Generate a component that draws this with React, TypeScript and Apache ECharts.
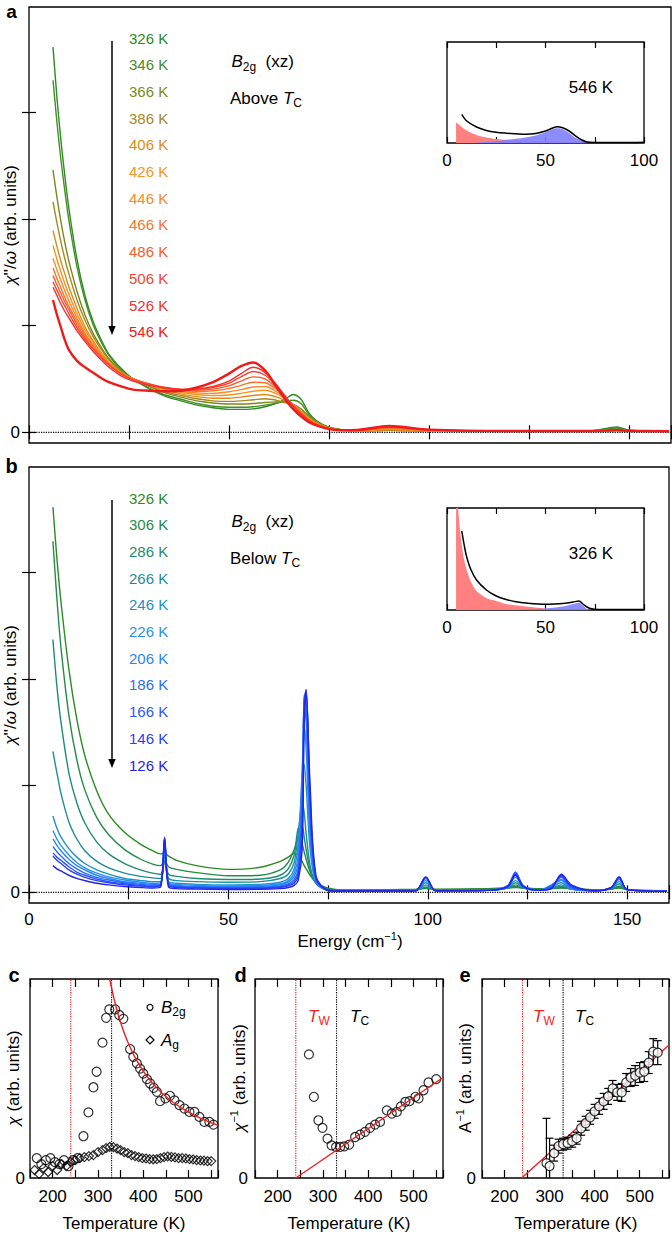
import React, { useEffect, useRef } from 'react';
import * as echarts from 'echarts';

// ---------- Panel a: spectra above Tc ----------
const EA = [6, 7, 8, 9, 10, 12, 14, 16, 18, 20, 23, 26, 30, 34, 38, 42, 46, 50, 53, 56, 59, 62, 64, 66, 68, 70, 72, 75, 78, 82, 90, 100, 120, 140, 147, 150, 160];
const A_326 = [3.61, 3.13, 2.73, 2.39, 2.09, 1.62, 1.28, 1.04, 0.87, 0.73, 0.60, 0.50, 0.41, 0.34, 0.295, 0.255, 0.23, 0.215, 0.215, 0.22, 0.24, 0.275, 0.31, 0.355, 0.31, 0.18, 0.105, 0.045, 0.025, 0.015, 0.02, 0.015, 0.012, 0.012, 0.05, 0.02, 0.01];
const A_346 = [3.30, 2.90, 2.55, 2.25, 1.98, 1.55, 1.24, 1.01, 0.85, 0.72, 0.59, 0.50, 0.415, 0.35, 0.31, 0.27, 0.245, 0.235, 0.235, 0.24, 0.255, 0.275, 0.29, 0.30, 0.27, 0.165, 0.10, 0.045, 0.025, 0.015, 0.02, 0.015, 0.012, 0.012, 0.04, 0.02, 0.01];
const A_366 = [2.46, 2.20, 1.97, 1.77, 1.60, 1.32, 1.10, 0.93, 0.80, 0.69, 0.58, 0.50, 0.43, 0.37, 0.33, 0.295, 0.275, 0.265, 0.265, 0.27, 0.28, 0.285, 0.28, 0.265, 0.22, 0.15, 0.095, 0.045, 0.025, 0.015, 0.02, 0.015, 0.012, 0.012, 0.03, 0.018, 0.01];
const A_386 = [2.16, 1.96, 1.78, 1.62, 1.48, 1.24, 1.05, 0.90, 0.78, 0.68, 0.57, 0.50, 0.435, 0.38, 0.345, 0.315, 0.295, 0.29, 0.295, 0.305, 0.315, 0.30, 0.28, 0.25, 0.20, 0.14, 0.09, 0.042, 0.024, 0.015, 0.022, 0.015, 0.012, 0.012, 0.025, 0.016, 0.01];
const A_406 = [1.89, 1.74, 1.60, 1.48, 1.36, 1.16, 0.99, 0.86, 0.75, 0.66, 0.56, 0.50, 0.44, 0.395, 0.36, 0.335, 0.32, 0.32, 0.33, 0.345, 0.355, 0.33, 0.295, 0.25, 0.195, 0.135, 0.085, 0.04, 0.022, 0.015, 0.025, 0.015, 0.012, 0.012, 0.022, 0.015, 0.01];
const A_426 = [1.75, 1.62, 1.50, 1.39, 1.29, 1.11, 0.96, 0.84, 0.74, 0.65, 0.56, 0.50, 0.445, 0.405, 0.375, 0.355, 0.345, 0.35, 0.365, 0.385, 0.395, 0.36, 0.315, 0.26, 0.195, 0.13, 0.08, 0.038, 0.021, 0.015, 0.03, 0.016, 0.012, 0.012, 0.02, 0.015, 0.01];
const A_446 = [1.63, 1.52, 1.42, 1.32, 1.23, 1.07, 0.93, 0.82, 0.73, 0.645, 0.555, 0.50, 0.45, 0.41, 0.385, 0.37, 0.365, 0.38, 0.40, 0.425, 0.43, 0.38, 0.325, 0.26, 0.19, 0.125, 0.078, 0.036, 0.02, 0.016, 0.035, 0.017, 0.012, 0.012, 0.02, 0.015, 0.01];
const A_466 = [1.54, 1.44, 1.35, 1.26, 1.18, 1.04, 0.91, 0.81, 0.72, 0.64, 0.55, 0.50, 0.45, 0.415, 0.395, 0.385, 0.39, 0.41, 0.44, 0.47, 0.465, 0.40, 0.33, 0.26, 0.185, 0.12, 0.075, 0.035, 0.02, 0.017, 0.04, 0.018, 0.012, 0.012, 0.02, 0.015, 0.01];
const A_486 = [1.47, 1.38, 1.30, 1.22, 1.15, 1.01, 0.89, 0.79, 0.71, 0.635, 0.55, 0.50, 0.455, 0.42, 0.40, 0.395, 0.405, 0.435, 0.48, 0.52, 0.50, 0.415, 0.335, 0.255, 0.18, 0.115, 0.072, 0.034, 0.02, 0.018, 0.045, 0.02, 0.012, 0.012, 0.02, 0.015, 0.01];
const A_506 = [1.41, 1.33, 1.25, 1.18, 1.11, 0.98, 0.87, 0.78, 0.70, 0.63, 0.545, 0.49, 0.45, 0.42, 0.405, 0.405, 0.42, 0.46, 0.52, 0.57, 0.535, 0.43, 0.34, 0.25, 0.175, 0.11, 0.07, 0.033, 0.02, 0.02, 0.05, 0.022, 0.012, 0.012, 0.02, 0.015, 0.01];
const A_526 = [1.36, 1.28, 1.20, 1.13, 1.07, 0.95, 0.85, 0.76, 0.68, 0.61, 0.53, 0.48, 0.44, 0.415, 0.40, 0.405, 0.43, 0.48, 0.55, 0.61, 0.56, 0.44, 0.34, 0.245, 0.17, 0.105, 0.068, 0.032, 0.02, 0.02, 0.055, 0.024, 0.012, 0.012, 0.02, 0.015, 0.01];
const A_546 = [1.24, 1.10, 0.98, 0.86, 0.77, 0.67, 0.61, 0.56, 0.51, 0.47, 0.43, 0.40, 0.39, 0.385, 0.39, 0.42, 0.47, 0.55, 0.62, 0.655, 0.58, 0.42, 0.31, 0.22, 0.15, 0.095, 0.062, 0.03, 0.02, 0.022, 0.06, 0.025, 0.012, 0.012, 0.02, 0.015, 0.01];
const LABELS_A = ['326 K', '346 K', '366 K', '386 K', '406 K', '426 K', '446 K', '466 K', '486 K', '506 K', '526 K', '546 K'];
const COLORS_A = ['#2b8c22', '#468c24', '#788a1e', '#a5881c', '#dc8c14', '#f3951e', '#f78926', '#f7742a', '#f75c2c', '#f6452f', '#f43030', '#f01a1a'];

// ---------- Panel b: spectra below Tc ----------
const EB = [6, 7, 8, 10, 12, 14, 17, 20, 24, 28, 31, 33, 34, 35, 37, 42, 50, 58, 63, 65, 66.5, 67.5, 68.5, 69, 69.5, 70.5, 72, 75, 80, 90, 97, 99.5, 102, 115, 120, 122, 124, 128, 131, 133.5, 136, 142, 146, 148, 150, 160];
const B_326 = [3.61, 3.13, 2.73, 2.09, 1.62, 1.28, 0.95, 0.73, 0.56, 0.45, 0.39, 0.36, 0.37, 0.34, 0.30, 0.25, 0.215, 0.235, 0.29, 0.33, 0.365, 0.35, 0.29, 0.25, 0.22, 0.16, 0.09, 0.04, 0.022, 0.025, 0.03, 0.035, 0.03, 0.035, 0.04, 0.045, 0.04, 0.035, 0.035, 0.04, 0.035, 0.025, 0.03, 0.04, 0.025, 0.015];
const B_306 = [3.29, 2.75, 2.30, 1.66, 1.24, 0.96, 0.70, 0.54, 0.40, 0.31, 0.265, 0.25, 0.30, 0.24, 0.215, 0.185, 0.155, 0.16, 0.21, 0.28, 0.40, 0.50, 0.45, 0.38, 0.31, 0.19, 0.09, 0.035, 0.02, 0.022, 0.025, 0.04, 0.025, 0.03, 0.04, 0.055, 0.04, 0.03, 0.035, 0.045, 0.03, 0.022, 0.03, 0.05, 0.025, 0.015];
const B_286 = [2.37, 1.93, 1.60, 1.12, 0.84, 0.65, 0.47, 0.36, 0.27, 0.21, 0.18, 0.17, 0.29, 0.17, 0.15, 0.13, 0.12, 0.125, 0.16, 0.22, 0.35, 0.60, 0.62, 0.52, 0.40, 0.21, 0.085, 0.03, 0.018, 0.018, 0.02, 0.05, 0.02, 0.025, 0.04, 0.07, 0.04, 0.025, 0.035, 0.055, 0.03, 0.02, 0.03, 0.06, 0.025, 0.012];
const B_266 = [1.32, 1.12, 0.93, 0.66, 0.50, 0.39, 0.29, 0.23, 0.18, 0.15, 0.135, 0.13, 0.30, 0.13, 0.11, 0.10, 0.095, 0.10, 0.13, 0.17, 0.28, 0.55, 0.83, 0.75, 0.55, 0.25, 0.08, 0.025, 0.015, 0.015, 0.018, 0.07, 0.018, 0.02, 0.04, 0.09, 0.04, 0.02, 0.04, 0.07, 0.03, 0.018, 0.035, 0.08, 0.025, 0.01];
const B_246 = [0.715, 0.60, 0.52, 0.41, 0.33, 0.27, 0.21, 0.17, 0.13, 0.11, 0.10, 0.10, 0.35, 0.10, 0.085, 0.075, 0.07, 0.075, 0.095, 0.13, 0.22, 0.45, 1.05, 1.20, 1.0, 0.40, 0.09, 0.02, 0.012, 0.012, 0.015, 0.09, 0.015, 0.018, 0.045, 0.11, 0.045, 0.02, 0.05, 0.09, 0.03, 0.015, 0.04, 0.10, 0.025, 0.01];
const B_226 = [0.58, 0.50, 0.44, 0.35, 0.28, 0.23, 0.18, 0.145, 0.115, 0.095, 0.085, 0.09, 0.42, 0.09, 0.075, 0.065, 0.06, 0.065, 0.08, 0.11, 0.18, 0.35, 1.15, 1.55, 1.35, 0.50, 0.09, 0.02, 0.012, 0.012, 0.015, 0.11, 0.015, 0.018, 0.05, 0.14, 0.05, 0.02, 0.06, 0.11, 0.03, 0.015, 0.045, 0.12, 0.025, 0.01];
const B_206 = [0.50, 0.44, 0.39, 0.31, 0.25, 0.21, 0.16, 0.13, 0.10, 0.085, 0.075, 0.08, 0.48, 0.08, 0.065, 0.057, 0.052, 0.055, 0.07, 0.095, 0.15, 0.28, 1.0, 1.75, 1.6, 0.60, 0.10, 0.02, 0.012, 0.012, 0.015, 0.13, 0.015, 0.018, 0.055, 0.17, 0.055, 0.02, 0.07, 0.12, 0.035, 0.015, 0.045, 0.13, 0.025, 0.01];
const B_186 = [0.43, 0.38, 0.34, 0.27, 0.22, 0.18, 0.14, 0.115, 0.09, 0.075, 0.068, 0.075, 0.50, 0.075, 0.058, 0.05, 0.046, 0.048, 0.06, 0.08, 0.12, 0.22, 0.85, 1.85, 1.75, 0.70, 0.11, 0.02, 0.012, 0.012, 0.015, 0.14, 0.015, 0.018, 0.06, 0.19, 0.06, 0.02, 0.06, 0.14, 0.04, 0.015, 0.045, 0.14, 0.025, 0.01];
const B_166 = [0.37, 0.33, 0.30, 0.24, 0.19, 0.16, 0.125, 0.10, 0.08, 0.065, 0.06, 0.07, 0.51, 0.07, 0.052, 0.045, 0.04, 0.042, 0.052, 0.07, 0.10, 0.18, 0.70, 1.80, 1.90, 0.80, 0.12, 0.02, 0.012, 0.012, 0.015, 0.145, 0.015, 0.018, 0.06, 0.18, 0.06, 0.02, 0.05, 0.15, 0.05, 0.015, 0.045, 0.145, 0.025, 0.01];
const B_146 = [0.34, 0.30, 0.27, 0.21, 0.17, 0.14, 0.11, 0.09, 0.07, 0.058, 0.053, 0.065, 0.52, 0.065, 0.046, 0.04, 0.035, 0.037, 0.045, 0.06, 0.085, 0.15, 0.55, 1.70, 1.90, 0.90, 0.13, 0.02, 0.012, 0.012, 0.015, 0.145, 0.015, 0.018, 0.055, 0.17, 0.055, 0.02, 0.04, 0.16, 0.06, 0.015, 0.045, 0.145, 0.025, 0.01];
const B_126 = [0.25, 0.22, 0.20, 0.16, 0.13, 0.11, 0.085, 0.07, 0.055, 0.045, 0.04, 0.05, 0.50, 0.05, 0.035, 0.03, 0.027, 0.028, 0.035, 0.045, 0.065, 0.11, 0.40, 1.55, 1.88, 1.0, 0.15, 0.02, 0.012, 0.012, 0.015, 0.14, 0.015, 0.018, 0.05, 0.16, 0.05, 0.02, 0.035, 0.17, 0.07, 0.015, 0.045, 0.14, 0.025, 0.01];
const LABELS_B = ['326 K', '306 K', '286 K', '266 K', '246 K', '226 K', '206 K', '186 K', '166 K', '146 K', '126 K'];
const COLORS_B = ['#2b8c22', '#238c48', '#1f8c70', '#1e8c9c', '#2090c8', '#2592ee', '#2a84fa', '#2a6cfa', '#2a56fa', '#2a40f5', '#2424e6'];

// ---------- Insets ----------
const IA_BLACK_E = [7.5, 10, 15, 20, 25, 30, 35, 40, 45, 50, 53, 56, 59, 62, 65, 68, 71, 75, 80, 90, 100];
const IA_BLACK_V = [28.7, 22, 16, 12.5, 10.7, 9.8, 9.2, 8.7, 9.5, 12, 14.5, 16.3, 15, 12, 7.5, 3.5, 1, 0.5, 0.5, 0.5, 0.8];
const IA_RED_E = [4.6, 7.5, 10, 15, 20, 25, 30, 40, 50, 60, 70, 80, 100];
const IA_RED_V = [20.7, 16, 12.5, 8, 5.5, 4, 3.2, 2.2, 1.5, 1, 0.5, 0.3, 0.2];
const IA_BLUE_E = [15, 20, 25, 30, 35, 40, 45, 50, 53, 56, 59, 62, 65, 68, 71, 73];
const IA_BLUE_V = [0.3, 1, 1.8, 3, 4.2, 5.5, 7.5, 11, 13.5, 14.7, 13.5, 10, 5.5, 2.5, 0.5, 0];
const IB_BLACK_E = [7.5, 9, 10, 12, 15, 20, 25, 30, 35, 40, 50, 60, 64, 67, 69, 72, 75, 80, 100];
const IB_BLACK_V = [79, 62, 53, 41, 30, 20, 14, 10.5, 8.3, 7, 5.7, 6.7, 8, 9, 6, 2, 0.7, 0.5, 0.5];
const IB_RED_E = [4.6, 5.5, 7, 8.5, 10, 12, 15, 20, 25, 30, 40, 50, 60, 70, 80, 100];
const IB_RED_V = [130, 105, 72, 52, 40, 29, 19, 12, 9, 6, 3.5, 1.5, 1, 0.5, 0.3, 0.2];
const IB_BLUE_E = [35, 40, 45, 50, 55, 60, 64, 67, 69, 71, 73];
const IB_BLUE_V = [0.2, 0.5, 0.9, 1.5, 2.5, 4, 6, 7.3, 4.5, 1, 0];

// ---------- Panel c ----------
const C_B2G_T = [165, 175, 185, 195, 205, 215, 225, 235, 245, 255, 268, 279, 290, 297, 310, 318, 325, 338, 347, 356, 371, 378, 386, 393, 400, 408, 415, 423, 430, 437, 449, 459, 469, 480, 491, 502, 513, 524, 535, 546, 555];
const C_B2G_V = [0.10, 0.07, 0.09, 0.10, 0.08, 0.07, 0.09, 0.06, 0.09, 0.10, 0.21, 0.33, 0.456, 0.534, 0.68, 0.805, 0.847, 0.847, 0.819, 0.80, 0.648, 0.609, 0.576, 0.55, 0.525, 0.497, 0.475, 0.453, 0.433, 0.386, 0.40, 0.413, 0.39, 0.366, 0.349, 0.332, 0.332, 0.307, 0.282, 0.282, 0.268];
const C_AG_T = [160, 170, 180, 190, 200, 210, 220, 230, 240, 250, 260, 270, 280, 290, 300, 310, 318, 326, 334, 342, 350, 358, 366, 374, 382, 390, 398, 406, 414, 422, 430, 438, 446, 454, 462, 470, 478, 486, 494, 502, 510, 518, 526, 534, 542, 550];
const C_AG_V = [0.04, 0.02, 0.05, 0.03, 0.06, 0.04, 0.07, 0.06, 0.08, 0.09, 0.10, 0.105, 0.11, 0.115, 0.13, 0.14, 0.15, 0.156, 0.155, 0.148, 0.14, 0.13, 0.125, 0.115, 0.11, 0.105, 0.10, 0.098, 0.095, 0.094, 0.095, 0.10, 0.105, 0.108, 0.106, 0.104, 0.10, 0.10, 0.098, 0.095, 0.093, 0.09, 0.088, 0.087, 0.085, 0.085];
const C_FIT_T = [326, 335, 345, 355, 365, 380, 400, 420, 440, 460, 480, 500, 520, 545, 565];
const C_FIT_V = [1.0, 0.905, 0.819, 0.748, 0.688, 0.614, 0.5375, 0.478, 0.43, 0.391, 0.358, 0.331, 0.307, 0.282, 0.265];

// ---------- Panel d ----------
const D_T = [269, 280, 290, 299, 310, 319, 329, 338, 347, 358, 371, 382, 393, 404, 415, 426, 441, 452, 463, 472, 482, 491, 504, 511, 522, 533, 550];
const D_V = [0.621, 0.408, 0.29, 0.252, 0.198, 0.164, 0.156, 0.156, 0.159, 0.168, 0.206, 0.218, 0.232, 0.252, 0.268, 0.282, 0.34, 0.324, 0.332, 0.36, 0.383, 0.386, 0.408, 0.40, 0.441, 0.48, 0.497];
const D_FIT_T = [240, 565];
const D_FIT_V = [0, 0.505];

// ---------- Panel e ----------
const E_T = [293, 300, 310, 320, 330, 340, 350, 360, 370, 380, 390, 400, 410, 420, 430, 440, 450, 460, 470, 480, 490, 500, 510, 520, 530, 540];
const E_V = [0.075, 0.06, 0.125, 0.16, 0.17, 0.175, 0.185, 0.20, 0.25, 0.275, 0.305, 0.335, 0.36, 0.385, 0.41, 0.45, 0.43, 0.43, 0.48, 0.505, 0.515, 0.53, 0.535, 0.58, 0.635, 0.63];
const E_ERR = [0.225, 0.14, 0.04, 0.035, 0.03, 0.03, 0.03, 0.03, 0.035, 0.035, 0.035, 0.035, 0.04, 0.04, 0.04, 0.04, 0.04, 0.045, 0.045, 0.045, 0.05, 0.05, 0.05, 0.055, 0.065, 0.06];
const E_FIT_T = [238, 565];
const E_FIT_V = [0, 0.668];

const T_W = 240;
const T_C = 330;

const FONT = '"Liberation Sans", Arial, Helvetica, sans-serif';
const RED = '#f01e1e';

function pairs(xs: number[], ys: number[]) {
  return xs.map((x, i) => [x, ys[i]]);
}

function rich(fill: string, size: number) {
  return {
    i: { fontStyle: 'italic', fontSize: size, fontFamily: FONT, fill },
    sub: { fontSize: 12, fontFamily: FONT, fill, verticalAlign: 'bottom', height: 12 },
    sup: { fontSize: 11, fontFamily: FONT, fill, verticalAlign: 'top', height: 12 },
  };
}

function txt(x: number, y: number, text: string, o: any = {}) {
  const size = o.size ?? 17;
  const fill = o.fill ?? '#000';
  const align = o.align ?? 'left';
  const style: any = {
    text,
    fill,
    fontSize: size,
    fontFamily: FONT,
    fontWeight: o.weight ?? 'normal',
    fontStyle: 'normal',
    align,
    textAlign: align,
    verticalAlign: 'middle',
    textVerticalAlign: 'middle',
  };
  if (!o.plain) {
    style.lineHeight = 22;
    style.rich = rich(fill, size);
  }
  return { type: 'text', x, y, rotation: o.rot ?? 0, silent: true, z: 100, style };
}

const tickLine = { color: '#000', width: 1.2 };

function xAx(gi: number, min: number, max: number, interval: number, pos: string, tickLen: number, labels?: (v: number) => string, margin = 8) {
  return {
    type: 'value',
    gridIndex: gi,
    min,
    max,
    interval,
    position: pos,
    splitLine: { show: false },
    axisLine: { show: false },
    axisTick: { show: true, inside: true, length: tickLen, lineStyle: tickLine },
    axisLabel: labels
      ? { show: true, formatter: labels, fontSize: 17, fontFamily: FONT, color: '#000', margin }
      : { show: false },
  };
}

function buildOption() {
  const grids = [
    { left: 29, top: 7, width: 642, height: 436 },
    { left: 447, top: 42, width: 197, height: 101 },
    { left: 29, top: 467, width: 642, height: 436 },
    { left: 447, top: 508, width: 197, height: 102 },
    { left: 30, top: 979, width: 188, height: 199 },
    { left: 255, top: 979, width: 188, height: 199 },
    { left: 482, top: 979, width: 188, height: 199 },
  ].map((g) => ({ ...g, show: true, borderColor: '#000', borderWidth: 1.3, backgroundColor: 'transparent', containLabel: false }));

  const lab50 = (v: number) => (v % 50 === 0 && v <= 150 ? String(v) : '');
  const labIn = (v: number) => (v % 50 === 0 ? String(v) : '');
  const labT = (v: number) => (v % 100 === 0 && v >= 200 && v <= 500 ? String(v) : '');

  const xAxis = [
    xAx(0, 0, 160.5, 25, 'bottom', 7),
    xAx(0, 0, 160.5, 25, 'top', 7),
    xAx(1, 0, 100, 25, 'bottom', 6, labIn, 9),
    xAx(1, 0, 100, 25, 'top', 6),
    xAx(2, 0, 160.5, 25, 'bottom', 7, lab50, 8),
    xAx(2, 0, 160.5, 25, 'top', 7),
    xAx(3, 0, 100, 25, 'bottom', 6, labIn, 9),
    xAx(3, 0, 100, 25, 'top', 6),
    xAx(4, 150, 565, 50, 'bottom', 8, labT, 10),
    xAx(4, 150, 565, 50, 'top', 8),
    xAx(5, 150, 565, 50, 'bottom', 8, labT, 10),
    xAx(5, 150, 565, 50, 'top', 8),
    xAx(6, 150, 565, 50, 'bottom', 8, labT, 10),
    xAx(6, 150, 565, 50, 'top', 8),
  ];

  const specY = (gi: number, pos: string, withLabel: boolean) => ({
    type: 'value',
    gridIndex: gi,
    min: -0.1,
    max: 3.986,
    position: pos,
    splitLine: { show: false },
    axisLine: { show: false },
    axisTick: { show: true, inside: true, length: 7, lineStyle: tickLine, customValues: [0, 1, 2, 3] },
    axisLabel: withLabel
      ? { show: true, customValues: [0], formatter: (v: number) => (Math.abs(v) < 1e-9 ? '0' : ''), fontSize: 17, fontFamily: FONT, color: '#000', margin: 9 }
      : { show: false },
  });
  const plainY = (gi: number, max: number) => ({
    type: 'value', gridIndex: gi, min: 0, max,
    splitLine: { show: false }, axisLine: { show: false }, axisTick: { show: false }, axisLabel: { show: false },
  });
  const tY = (gi: number, margin: number) => ({
    type: 'value', gridIndex: gi, min: 0, max: 1,
    splitLine: { show: false }, axisLine: { show: false }, axisTick: { show: false },
    axisLabel: { show: true, formatter: (v: number) => (v === 0 ? '0' : ''), fontSize: 17, fontFamily: FONT, color: '#000', margin },
  });

  const yAxis = [
    specY(0, 'left', true),
    specY(0, 'right', false),
    plainY(1, 101),
    specY(2, 'left', true),
    specY(2, 'right', false),
    plainY(3, 102),
    tY(4, 5),
    tY(5, 7),
    tY(6, 6),
  ];

  const series: any[] = [];
  const line = (data: any, color: string, xi: number, yi: number, width = 1.4, extra: any = {}) => ({
    type: 'line', data, xAxisIndex: xi, yAxisIndex: yi, showSymbol: false, symbol: 'none',
    smooth: 0.3, lineStyle: { color, width }, silent: true, clip: true, z: 3, ...extra,
  });

  // zero lines
  series.push(line([[0, 0], [160.5, 0]], '#000', 0, 0, 1.2, { smooth: false, lineStyle: { color: '#000', width: 1.2, type: 'dotted' }, z: 2 }));
  series.push(line([[0, 0], [160.5, 0]], '#000', 4, 3, 1.2, { smooth: false, lineStyle: { color: '#000', width: 1.2, type: 'dotted' }, z: 2 }));

  const SA = [A_326, A_346, A_366, A_386, A_406, A_426, A_446, A_466, A_486, A_506, A_526, A_546];
  SA.forEach((vals, i) => {
    series.push(line(pairs(EA, vals), COLORS_A[i], 0, 0, i === SA.length - 1 ? 2.4 : 1.4));
  });
  const SB = [B_326, B_306, B_286, B_266, B_246, B_226, B_206, B_186, B_166, B_146, B_126];
  SB.forEach((vals, i) => {
    series.push(line(pairs(EB, vals), COLORS_B[i], 4, 3, 1.4));
  });

  // insets
  const area = (data: any, color: string, xi: number, yi: number, opacity: number) => ({
    type: 'line', data, xAxisIndex: xi, yAxisIndex: yi, showSymbol: false, symbol: 'none', smooth: 0.3,
    lineStyle: { width: 0, color }, areaStyle: { color, opacity }, silent: true, clip: true, z: 3,
  });
  series.push(area(pairs(IA_RED_E, IA_RED_V), '#ff8080', 2, 2, 1));
  series.push(area(pairs(IA_BLUE_E, IA_BLUE_V), '#7f7fff', 2, 2, 0.9));
  series.push(line(pairs(IA_BLACK_E, IA_BLACK_V), '#000', 2, 2, 1.5, { z: 4 }));
  series.push(area(pairs(IB_RED_E, IB_RED_V), '#ff8080', 6, 5, 1));
  series.push(area(pairs(IB_BLUE_E, IB_BLUE_V), '#7f7fff', 6, 5, 0.9));
  series.push(line(pairs(IB_BLACK_E, IB_BLACK_V), '#000', 6, 5, 1.5, { z: 4 }));

  // vertical guide lines c, d, e
  [[8, 6], [10, 7], [12, 8]].forEach(([xi, yi]) => {
    series.push(line([[T_W, 0], [T_W, 1]], RED, xi, yi, 1.2, { smooth: false, lineStyle: { color: RED, width: 1.2, type: 'dotted' }, z: 2 }));
    series.push(line([[T_C, 0], [T_C, 1]], '#000', xi, yi, 1.2, { smooth: false, lineStyle: { color: '#000', width: 1.2, type: 'dotted' }, z: 2 }));
  });

  // panel c
  series.push({
    type: 'scatter', xAxisIndex: 8, yAxisIndex: 6, data: pairs(C_AG_T, C_AG_V), symbol: 'diamond', symbolSize: 9,
    itemStyle: { color: 'rgba(255,255,255,0)', borderColor: '#000', borderWidth: 1.2 }, silent: true, z: 4,
  });
  series.push({
    type: 'scatter', xAxisIndex: 8, yAxisIndex: 6, data: pairs(C_B2G_T, C_B2G_V), symbol: 'circle', symbolSize: 9,
    itemStyle: { color: 'rgba(255,255,255,0)', borderColor: '#000', borderWidth: 1.2 }, silent: true, z: 4,
  });
  series.push(line(pairs(C_FIT_T, C_FIT_V), RED, 8, 6, 1.4, { z: 5, smooth: 0.4 }));

  // panel d
  series.push({
    type: 'scatter', xAxisIndex: 10, yAxisIndex: 7, data: pairs(D_T, D_V), symbol: 'circle', symbolSize: 9,
    itemStyle: { color: 'rgba(255,255,255,0)', borderColor: '#000', borderWidth: 1.2 }, silent: true, z: 4,
  });
  series.push(line(pairs(D_FIT_T, D_FIT_V), RED, 10, 7, 1.4, { z: 5, smooth: false }));

  // panel e
  series.push(line(pairs(E_FIT_T, E_FIT_V), RED, 12, 8, 1.4, { z: 3, smooth: false }));
  series.push({
    type: 'custom', xAxisIndex: 12, yAxisIndex: 8, clip: true, silent: true, z: 4,
    data: E_T.map((t, i) => [t, E_V[i] - E_ERR[i], E_V[i] + E_ERR[i]]),
    encode: { x: 0, y: [1, 2] },
    renderItem: (params: any, api: any) => {
      const x = api.value(0);
      const lo = api.coord([x, api.value(1)]);
      const hi = api.coord([x, api.value(2)]);
      const w = 4;
      const st = { stroke: '#000', lineWidth: 1.2 };
      return {
        type: 'group',
        children: [
          { type: 'line', shape: { x1: lo[0], y1: lo[1], x2: hi[0], y2: hi[1] }, style: st },
          { type: 'line', shape: { x1: lo[0] - w, y1: lo[1], x2: lo[0] + w, y2: lo[1] }, style: st },
          { type: 'line', shape: { x1: hi[0] - w, y1: hi[1], x2: hi[0] + w, y2: hi[1] }, style: st },
        ],
      };
    },
  });
  series.push({
    type: 'scatter', xAxisIndex: 12, yAxisIndex: 8, data: pairs(E_T, E_V), symbol: 'circle', symbolSize: 9,
    itemStyle: { color: '#fff', borderColor: '#000', borderWidth: 1.2 }, silent: true, z: 6,
  });

  // ---------- graphics ----------
  const g: any[] = [];
  // panel letters
  g.push(txt(11.5, 11, 'a', { weight: 'bold', size: 19, align: 'center', plain: true }));
  g.push(txt(11.5, 466, 'b', { weight: 'bold', size: 20, align: 'center', plain: true }));
  g.push(txt(14, 974.5, 'c', { weight: 'bold', size: 20, align: 'center', plain: true }));
  g.push(txt(240.5, 974.5, 'd', { weight: 'bold', size: 20, align: 'center', plain: true }));
  g.push(txt(465, 974.5, 'e', { weight: 'bold', size: 20, align: 'center', plain: true }));

  // legends a/b
  LABELS_A.forEach((l, i) => g.push(txt(129, 38.3 + i * 26.67, l, { fill: COLORS_A[i], size: 15 })));
  LABELS_B.forEach((l, i) => g.push(txt(129, 498.3 + i * 26.67, l, { fill: COLORS_B[i], size: 15 })));

  // arrows
  const arrow = (y1: number, y2: number) => {
    g.push({ type: 'line', silent: true, z: 100, shape: { x1: 112, y1, x2: 112, y2: y2 - 6 }, style: { stroke: '#000', lineWidth: 1.5 } });
    g.push({ type: 'polygon', silent: true, z: 100, shape: { points: [[108.3, y2 - 9], [115.7, y2 - 9], [112, y2]] }, style: { fill: '#000' } });
  };
  arrow(41, 335);
  arrow(500, 768);

  g.push(txt(231.5, 61.5, '{i|B}{sub|2g}  (xz)'));
  g.push(txt(230, 98.3, 'Above {i|T}{sub|C}'));
  g.push(txt(231.5, 521.5, '{i|B}{sub|2g}  (xz)'));
  g.push(txt(230, 558.3, 'Below {i|T}{sub|C}'));

  g.push(txt(591, 87, '546 K', { align: 'center' }));
  g.push(txt(591, 553, '326 K', { align: 'center' }));

  // axis titles
  g.push(txt(10.5, 225, "{i|χ}''/{i|ω} (arb. units)", { rot: Math.PI / 2, align: 'center' }));
  g.push(txt(10.5, 685, "{i|χ}''/{i|ω} (arb. units)", { rot: Math.PI / 2, align: 'center' }));
  g.push(txt(350, 941, 'Energy (cm{sup|−1})', { align: 'center' }));
  g.push(txt(13, 1078, '{i|χ} (arb. units)', { rot: Math.PI / 2, align: 'center' }));
  g.push(txt(239, 1078, '{i|χ}{sup|−1} (arb. units)', { rot: Math.PI / 2, align: 'center' }));
  g.push(txt(465, 1078, 'A{sup|−1} (arb. units)', { rot: Math.PI / 2, align: 'center' }));
  g.push(txt(124, 1223, 'Temperature (K)', { align: 'center' }));
  g.push(txt(349, 1223, 'Temperature (K)', { align: 'center' }));
  g.push(txt(576, 1223, 'Temperature (K)', { align: 'center' }));

  // panel c legend
  g.push({ type: 'circle', silent: true, z: 100, shape: { cx: 150, cy: 1007.3, r: 3 }, style: { fill: '#fff', stroke: '#000', lineWidth: 1.2 } });
  g.push(txt(161, 1007, '{i|B}{sub|2g}'));
  g.push({ type: 'polygon', silent: true, z: 100, shape: { points: [[150, 1036], [154, 1040], [150, 1044], [146, 1040]] }, style: { fill: '#fff', stroke: '#000', lineWidth: 1.2 } });
  g.push(txt(161, 1040, '{i|A}{sub|g}'));

  // T_W / T_C labels in d, e
  g.push(txt(308, 1016, '{i|T}{sub|W}', { fill: RED }));
  g.push(txt(350, 1016, '{i|T}{sub|C}'));
  g.push(txt(533, 1016, '{i|T}{sub|W}', { fill: RED }));
  g.push(txt(575, 1016, '{i|T}{sub|C}'));

  return {
    animation: false,
    backgroundColor: '#fff',
    grid: grids,
    xAxis,
    yAxis,
    series,
    graphic: { elements: g },
  };
}

export default function App() {
  const ref = useRef<HTMLDivElement>(null);
  useEffect(() => {
    document.body.style.margin = '0';
    const chart = echarts.init(ref.current as HTMLDivElement, null, { renderer: 'svg' });
    chart.setOption(buildOption() as any);
    return () => {
      chart.dispose();
    };
  }, []);
  return <div ref={ref} style={{ width: 672, height: 1234 }} />;
}
